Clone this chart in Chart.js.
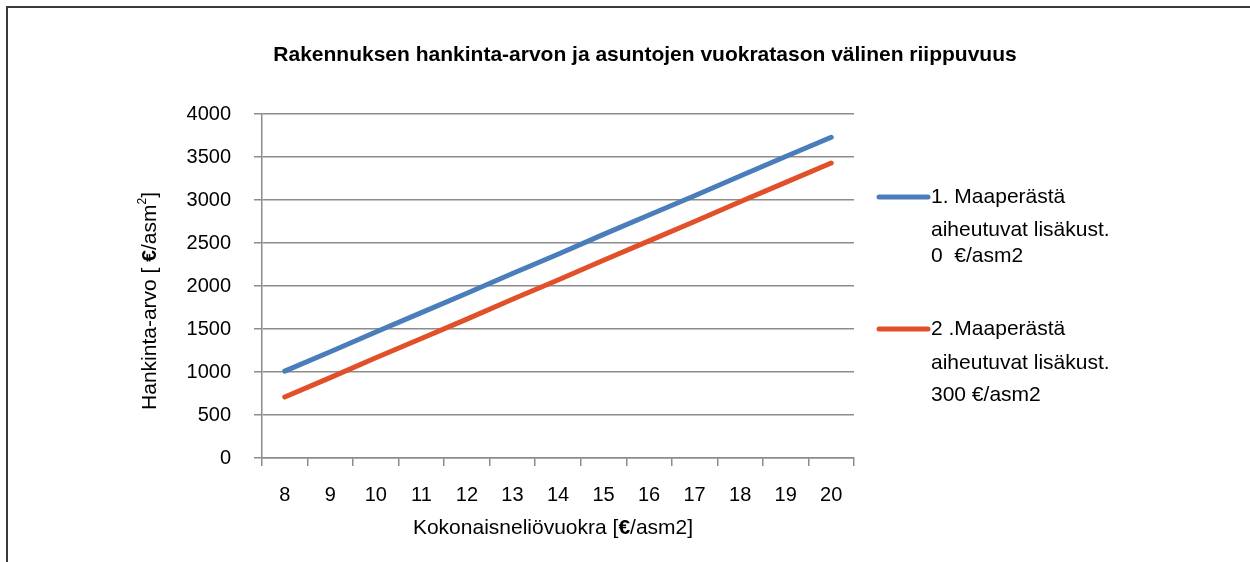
<!DOCTYPE html>
<html>
<head>
<meta charset="utf-8">
<script src="https://cdn.jsdelivr.net/npm/chart.js@4.4.1/dist/chart.umd.min.js"></script>
<style>
    body { margin: 0; background: #fff; }
    #wrap { position: relative; width: 1250px; height: 562px; overflow: hidden; }
    #frame { position: absolute; left: 6px; top: 6px; width: 1300px; height: 600px; border-top: 2px solid #3a3a3a; border-left: 2px solid #3a3a3a; }
    canvas { position: absolute; left: 0; top: 0; }
</style>
</head>
<body>
<div id="wrap">
    <div id="frame"></div>
    <canvas id="rentChart" width="1250" height="562"></canvas>
</div>
<script>
// Data
const rentLabels = ['8', '9', '10', '11', '12', '13', '14', '15', '16', '17', '18', '19', '20'];
const cost0 = [1010, 1235, 1465, 1690, 1915, 2145, 2370, 2600, 2825, 3050, 3280, 3505, 3730];
const cost300 = [710, 935, 1165, 1390, 1615, 1845, 2070, 2300, 2525, 2750, 2980, 3205, 3430];
const legend0 = ['1. Maaperästä', 'aiheutuvat lisäkust.', '0  €/asm2'];
const legend300 = ['2 .Maaperästä', 'aiheutuvat lisäkust.', '300 €/asm2'];
const chartTitle = 'Rakennuksen hankinta-arvon ja asuntojen vuokratason välinen riippuvuus';

const FONT = 'Helvetica, Arial, "Liberation Sans", sans-serif';

// draw a run of text pieces (some bold / superscript) centred on x
function drawRuns(ctx, runs, cx, cy) {
    let total = 0;
    runs.forEach(r => {
        ctx.font = r.font;
        total += ctx.measureText(r.text).width;
    });
    let x = cx - total / 2;
    runs.forEach(r => {
        ctx.font = r.font;
        ctx.fillText(r.text, x, cy + (r.dy || 0));
        x += ctx.measureText(r.text).width;
    });
}

// Titles + multi-line legend drawn by hand
const extrasPlugin = {
    id: 'extras',
    afterDraw(chart) {
        const ctx = chart.ctx;
        ctx.save();
        ctx.fillStyle = '#000';
        ctx.font = 'bold 21px ' + FONT;
        ctx.textAlign = 'center';
        ctx.textBaseline = 'middle';
        ctx.fillText(chartTitle, 645, 55);

        ctx.textAlign = 'left';
        // x axis title
        drawRuns(ctx, [
            { text: 'Kokonaisneliövuokra [', font: '21px ' + FONT },
            { text: '€', font: 'bold 21px ' + FONT },
            { text: '/asm2]', font: '21px ' + FONT }
        ], 553, 528);

        // y axis title
        ctx.save();
        ctx.translate(150, 301);
        ctx.rotate(-Math.PI / 2);
        drawRuns(ctx, [
            { text: 'Hankinta-arvo [ ', font: '21px ' + FONT },
            { text: '€', font: 'bold 21px ' + FONT },
            { text: '/asm', font: '21px ' + FONT },
            { text: '2', font: '12px ' + FONT, dy: -7 },
            { text: ']', font: '21px ' + FONT }
        ], 0, 0);
        ctx.restore();

        const items = [
            { lines: legend0, ys: [197, 230, 256], ds: chart.data.datasets[0] },
            { lines: legend300, ys: [329, 363, 395], ds: chart.data.datasets[1] }
        ];
        ctx.font = '21px ' + FONT;
        items.forEach(item => {
            ctx.strokeStyle = item.ds.borderColor;
            ctx.lineWidth = 5;
            ctx.lineCap = 'round';
            ctx.beginPath();
            ctx.moveTo(879, item.ys[0]);
            ctx.lineTo(928, item.ys[0]);
            ctx.stroke();
            item.lines.forEach((t, i) => ctx.fillText(t, 931, item.ys[i]));
        });
        ctx.restore();
    }
};

const config = {
    type: 'line',
    data: {
        labels: rentLabels,
        datasets: [
            { label: legend0.join(' '), data: cost0, borderColor: '#4a7ebb', borderWidth: 5, pointRadius: 0, tension: 0, borderCapStyle: 'round' },
            { label: legend300.join(' '), data: cost300, borderColor: '#e2502a', borderWidth: 5, pointRadius: 0, tension: 0, borderCapStyle: 'round' }
        ]
    },
    options: {
        responsive: false,
        animation: false,
        layout: { padding: { left: 139, right: 396, top: 114, bottom: 12 } },
        plugins: {
            legend: { display: false },
            title: { display: false },
            tooltip: { enabled: false }
        },
        scales: {
            x: {
                offset: true,
                grid: { offset: true, drawOnChartArea: false, color: '#8c8c8c', lineWidth: 1.5, tickLength: 8 },
                border: { color: '#8c8c8c', width: 1.5 },
                ticks: { color: '#000', font: { family: FONT, size: 20 }, padding: 17, maxRotation: 0, autoSkip: false },
                afterFit(scale) { scale.height = 92; }
            },
            y: {
                min: 0,
                max: 4000,
                grid: { color: '#8c8c8c', lineWidth: 1.5, tickLength: 8 },
                border: { color: '#8c8c8c', width: 1.5 },
                ticks: { stepSize: 500, color: '#000', font: { family: FONT, size: 20 }, padding: 23, callback: v => String(v) },
                afterFit(scale) { scale.width = 123; }
            }
        }
    },
    plugins: [extrasPlugin]
};

const ctx = document.getElementById('rentChart').getContext('2d');
const rentChart = new Chart(ctx, config);
</script>
</body>
</html>
